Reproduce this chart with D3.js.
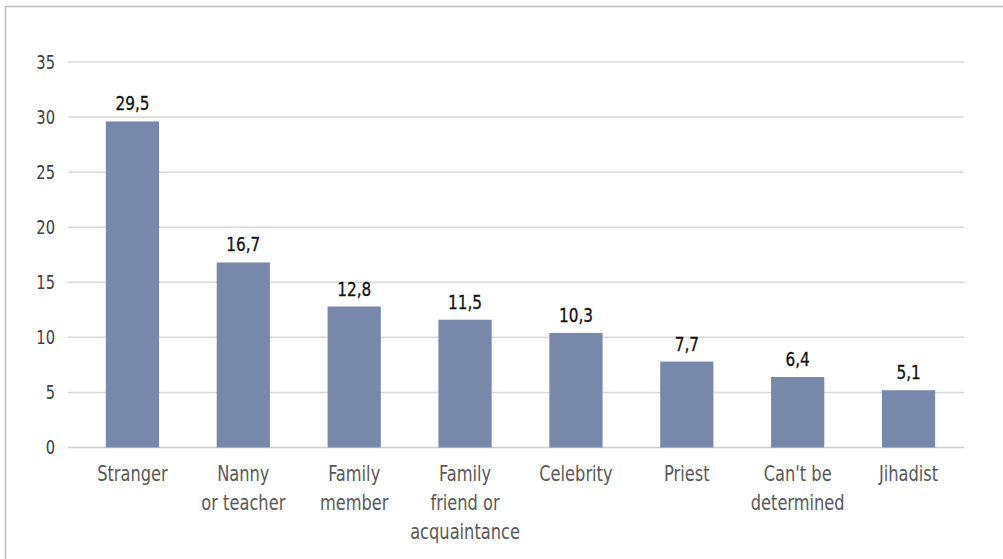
<!DOCTYPE html>
<html><head><meta charset="utf-8">
<script src="https://cdn.jsdelivr.net/npm/d3@7"></script>
<style>
html,body{margin:0;padding:0;background:#fff;}
svg{display:block;font-family:"DejaVu Sans Condensed","Liberation Sans Narrow",sans-serif;}
</style></head>
<body><svg id="c" width="1003" height="559"></svg>
<script>
const categories = [["Stranger"],["Nanny","or teacher"],["Family","member"],["Family","friend or","acquaintance"],["Celebrity"],["Priest"],["Can't be","determined"],["Jihadist"]];
const values = [29.6, 16.8, 12.8, 11.6, 10.4, 7.8, 6.4, 5.2];
const valueLabels = ["29,5","16,7","12,8","11,5","10,3","7,7","6,4","5,1"];
const yTicks = [0,5,10,15,20,25,30,35];

const svg = d3.select("#c");
svg.append("rect").attr("x",5.5).attr("y",6.5).attr("width",1100).attr("height",700)
  .attr("fill","none").attr("stroke","#bfbfbf").attr("stroke-width",1.5);

const y = d3.scaleLinear().domain([0,35]).range([447.5,62]);
const x = d3.scaleBand().domain(d3.range(categories.length)).range([77,964]).paddingInner(0.52).paddingOuter(0.26);

// gridlines
svg.append("g").selectAll("line").data(yTicks).join("line")
  .attr("x1",68).attr("x2",964)
  .attr("y1",d=>y(d)).attr("y2",d=>y(d))
  .attr("stroke",d=>d===0?"#cfcfcf":"#d9d9d9").attr("stroke-width",1.5);

// y tick labels
svg.append("g").selectAll("text").data(yTicks).join("text")
  .attr("transform",d=>`translate(55,${y(d)}) scale(0.86,1)`)
  .attr("dy","0.36em")
  .attr("text-anchor","end").attr("fill","#404040")
  .style("font-size","19px").text(d=>d);

// bars
svg.append("g").selectAll("rect").data(values).join("rect")
  .attr("x",(d,i)=>x(i)).attr("width",x.bandwidth())
  .attr("y",d=>y(d)).attr("height",d=>y(0)-y(d))
  .attr("fill","#7888ab");

// value labels
svg.append("g").selectAll("text").data(values).join("text")
  .attr("transform",(d,i)=>`translate(${x(i)+x.bandwidth()/2},${y(d)-11}) scale(0.85,1)`)
  .attr("text-anchor","middle").attr("fill","#111")
  .attr("stroke","#111").attr("stroke-width",0.3)
  .style("font-size","20px").text((d,i)=>valueLabels[i]);

// category labels
const cg = svg.append("g").selectAll("text").data(categories).join("text")
  .attr("text-anchor","middle").attr("fill","#595959").style("font-size","21px")
  .attr("transform",(d,i)=>`translate(${x(i)+x.bandwidth()/2},481) scale(0.86,1)`);
cg.selectAll("tspan").data(d=>d).join("tspan")
  .attr("x",0).attr("y",(d,j)=>j*29).text(d=>d);
</script></body></html>
